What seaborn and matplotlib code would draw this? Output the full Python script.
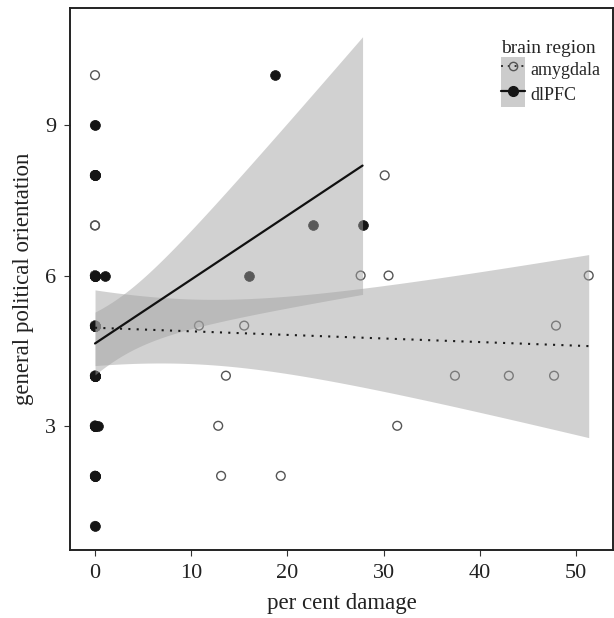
import numpy as np
import pandas as pd
import matplotlib
matplotlib.use("Agg")
import matplotlib.pyplot as plt
import seaborn as sns
from matplotlib.lines import Line2D
from matplotlib.patches import Patch

# ---- data (many patients overlap at 0 % damage) ----
amyg_x = [0] * 30 + [10.8, 15.5, 13.6, 12.8, 13.1, 19.3, 27.6, 30.1, 30.5, 31.4,
                     37.4, 43.0, 47.7, 47.9, 51.3]
amyg_y = [1,
          2, 2, 2,
          3, 3, 3, 3, 3,
          4, 4, 4, 4,
          5, 5, 5, 5,
          6, 6, 6, 6, 6,
          7, 7,
          8, 8, 8, 8,
          9,
          10,
          5, 5, 4, 3, 2, 2, 6, 8, 6, 3, 4, 4, 4, 5, 6]
dlpfc_x = [0] * 39 + [1.0, 0.3, 18.7, 16.0, 22.6, 27.8]
dlpfc_y = [1,
           2, 2, 2, 2, 2,
           3, 3, 3, 3, 3, 3,
           4, 4, 4, 4, 4, 4, 4, 4,
           5, 5, 5, 5, 5, 5, 5,
           6, 6, 6, 6, 6, 6,
           8, 8, 8, 8, 8,
           9,
           6, 3, 10, 6, 7, 7]
x_ticks = [0, 10, 20, 30, 40, 50]
y_ticks = [3, 6, 9]
region_labels = ["amygdala", "dlPFC"]

amyg = pd.DataFrame({"damage": amyg_x, "orientation": amyg_y})
dlpfc = pd.DataFrame({"damage": dlpfc_x, "orientation": dlpfc_y})

sns.set_style("white")
plt.rcParams["font.family"] = ["Liberation Serif", "DejaVu Serif"]

fig = plt.figure(figsize=(6.14, 6.18), dpi=100)
ax = fig.add_axes([0.114, 0.110, 0.884, 0.877])

# points (drawn underneath the confidence ribbons, as in the reference)
sns.scatterplot(data=amyg, x="damage", y="orientation", ax=ax, marker="o",
                s=40, facecolors="none", edgecolor="#555555", linewidth=1.0, zorder=2)
sns.scatterplot(data=dlpfc, x="damage", y="orientation", ax=ax, marker="o",
                s=50, color="#151515", edgecolor="#151515", linewidth=0.5, zorder=2)

band_color = "#a2a2a2"
band_alpha = 0.49
T_CRIT = 2.0167  # t(0.975, df = 43)


def lm_band(df):
    """Classic linear-model 95 % confidence band (as ggplot's geom_smooth(method='lm'))."""
    x = df["damage"].to_numpy(float)
    y = df["orientation"].to_numpy(float)
    n = len(x)
    b1, b0 = np.polyfit(x, y, 1)
    resid = y - (b0 + b1 * x)
    s = np.sqrt(np.sum(resid ** 2) / (n - 2))
    grid = np.linspace(x.min(), x.max(), 200)
    sxx = np.sum((x - x.mean()) ** 2)
    se = s * np.sqrt(1.0 / n + (grid - x.mean()) ** 2 / sxx)
    fit = b0 + b1 * grid
    return grid, fit - T_CRIT * se, fit + T_CRIT * se


for df in (amyg, dlpfc):
    g, lo, hi = lm_band(df)
    ax.fill_between(g, lo, hi, color=band_color, alpha=band_alpha, lw=0, zorder=3)

# fitted lines
sns.regplot(data=amyg, x="damage", y="orientation", ax=ax, scatter=False, ci=None,
            line_kws=dict(color="#1a1a1a", lw=1.5, linestyle=(0, (1, 3)), zorder=4))
sns.regplot(data=dlpfc, x="damage", y="orientation", ax=ax, scatter=False, ci=None,
            line_kws=dict(color="#111111", lw=1.6, zorder=4))

ax.set_xlim(-2.6, 53.8)
ax.set_ylim(0.52, 11.34)
ax.set_xticks(x_ticks)
ax.set_yticks(y_ticks)
ax.tick_params(axis="both", labelsize=16, length=4, width=0.8, color="#333333",
               bottom=True, left=True, pad=6, labelcolor="#222222")
ax.set_xlabel("per cent damage", fontsize=16.5, color="#222222", labelpad=7)
ax.set_ylabel("general political orientation", fontsize=16.5, color="#222222", labelpad=8)
for sp in ax.spines.values():
    sp.set_visible(True)
    sp.set_color("#222222")
    sp.set_linewidth(1.4)
ax.grid(False)

# legend with grey key boxes
bg = Patch(facecolor="#cccccc", edgecolor="none")
h_amyg = (bg, Line2D([], [], color="#333333", lw=1.4, linestyle=(0, (1, 2.5)),
                     marker="o", markersize=6, markerfacecolor="none",
                     markeredgecolor="#555555"))
h_dl = (bg, Line2D([], [], color="#111111", lw=1.6, marker="o", markersize=7,
                   markerfacecolor="#151515", markeredgecolor="#151515"))
leg = ax.legend([h_amyg, h_dl], region_labels, title="brain region",
                loc="upper right", bbox_to_anchor=(1.0, 0.965), frameon=False,
                fontsize=13, title_fontsize=14, handlelength=1.3, handleheight=1.75,
                labelspacing=0.0, handletextpad=0.3, borderaxespad=0.3)
leg._legend_box.align = "left"

fig.savefig("out.png", dpi=100)
